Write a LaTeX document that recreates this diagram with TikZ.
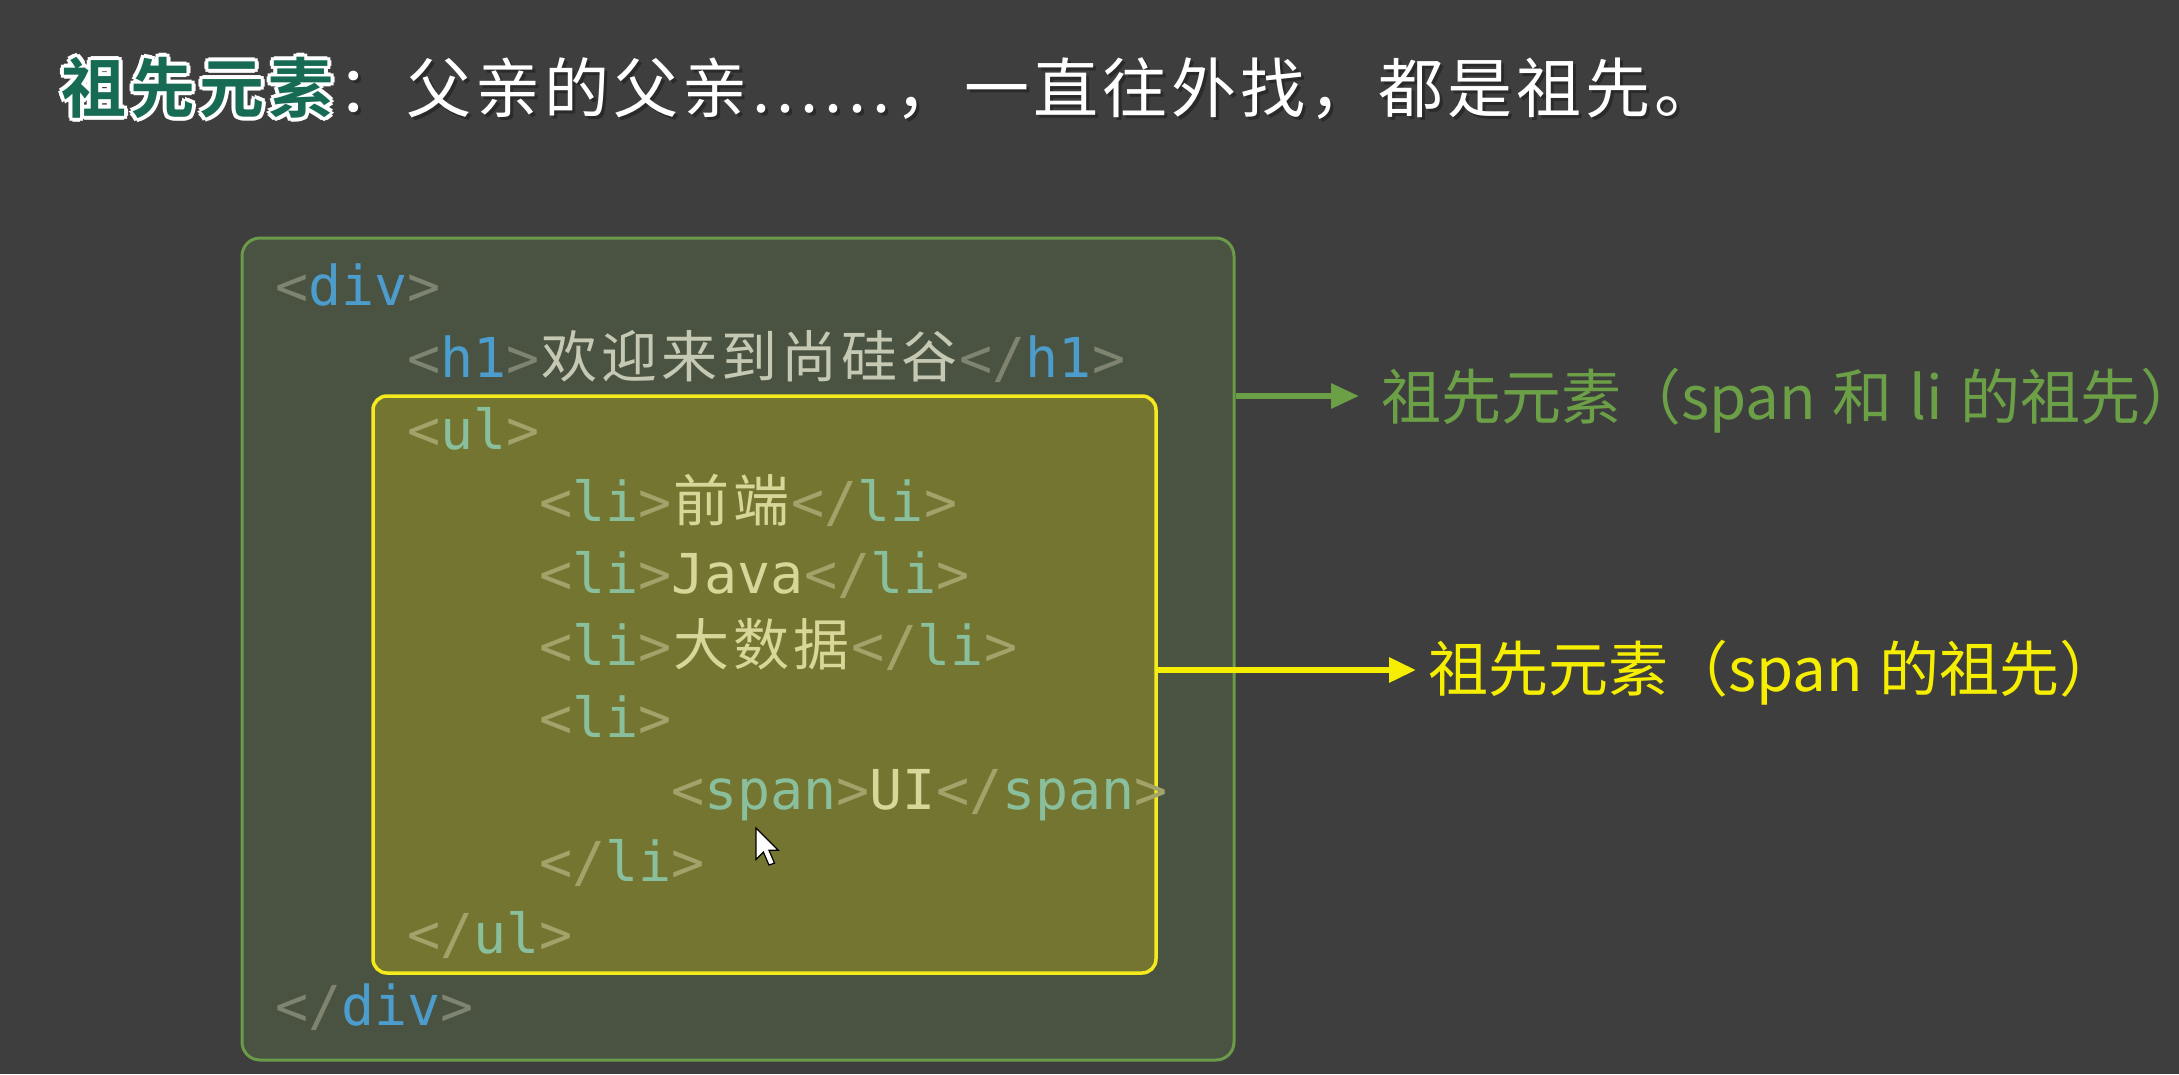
\documentclass[tikz,border=0pt]{standalone}
\usepackage{fontspec}
\usetikzlibrary{arrows.meta}
\newfontfamily\cjk{Noto Sans CJK SC}
\newfontfamily\cjkb{Noto Sans CJK SC Bold}
\newfontfamily\codef{DejaVu Sans Mono}
\definecolor{bg}{HTML}{3E3E3E}
\definecolor{outerfill}{HTML}{4A5241}
\definecolor{outerline}{HTML}{6B9A49}
\definecolor{innerfill}{HTML}{737530}
\definecolor{innerline}{HTML}{F5EA1D}
\definecolor{glab}{HTML}{6CA046}
\definecolor{ylab}{HTML}{F6EE00}
\definecolor{tgreen}{HTML}{176B54}
\definecolor{tshadow}{HTML}{2A2A2A}
\definecolor{obr}{HTML}{7F8471}
\definecolor{otag}{HTML}{4C9CCC}
\definecolor{otxt}{HTML}{C5C9B3}
\definecolor{ibr}{HTML}{A2A36A}
\definecolor{itag}{HTML}{8ABF9D}
\definecolor{itxt}{HTML}{D8D79A}
% code colour helpers
\newcommand\OB[1]{\textcolor{obr}{#1}}
\newcommand\OT[1]{\textcolor{otag}{#1}}
\newcommand\IB[1]{\textcolor{ibr}{#1}}
\newcommand\IT[1]{\textcolor{itag}{#1}}
\newcommand\IX[1]{\textcolor{itxt}{#1}}
\newcommand\CC[1]{\makebox[60pt][c]{{\cjk\fontsize{56}{56}\selectfont #1}}}
% spaced title characters
\makeatletter
\def\tsp#1{\tsp@i#1\@nil}
\def\tsp@i#1{\ifx#1\@nil\else\makebox[69pt][c]{#1}\expandafter\tsp@i\fi}
\makeatother
% title helpers
\newcommand\haloat[3]{\makebox[0pt][l]{\hspace{#1}\raisebox{#2}{#3}}}
\newcommand\halotext[1]{%
  \textcolor{white}{\haloat{4pt}{0pt}{#1}\haloat{-4pt}{0pt}{#1}\haloat{0pt}{4pt}{#1}\haloat{0pt}{-4pt}{#1}%
  \haloat{3pt}{3pt}{#1}\haloat{-3pt}{3pt}{#1}\haloat{3pt}{-3pt}{#1}\haloat{-3pt}{-3pt}{#1}%
  \haloat{2pt}{0pt}{#1}\haloat{-2pt}{0pt}{#1}\haloat{0pt}{2pt}{#1}\haloat{0pt}{-2pt}{#1}}%
  \textcolor{tgreen}{#1}}
\newcommand\shadowtext[1]{\haloat{3pt}{-3pt}{\textcolor{tshadow}{#1}}\textcolor{white}{#1}}
\newcommand\dotbox{\makebox[24pt][c]{.}}
\newcommand\lsp{\hspace{17pt}}
\tikzset{
  code/.style={anchor=base west, inner sep=0pt, font=\codef\fontsize{55}{55}\selectfont},
  outerbox/.style={draw=outerline, fill=outerfill, line width=3pt, rounded corners=18pt, inner sep=0pt},
  innerbox/.style={draw=innerline, fill=innerfill, line width=3.5pt, rounded corners=14pt, inner sep=0pt},
  lab/.style={anchor=base west, inner sep=0pt, font=\cjk\fontsize{60}{60}\selectfont},
  garrow/.style={draw=glab, line width=6pt, -{Triangle[length=28pt,width=24pt]}},
  yarrow/.style={draw=ylab, line width=6pt, -{Triangle[length=27pt,width=24pt]}},
}
\begin{document}
\begin{tikzpicture}[x=1pt,y=-1pt]
\useasboundingbox (0,0) rectangle (2179,1074);
\fill[bg] (0,0) rectangle (2179,1074);

% title
\node[anchor=base west, inner sep=0pt, font=\cjk\fontsize{65}{65}\selectfont] (title) at (59,112)
  {{\cjkb\halotext{\tsp{祖先元素}}}\shadowtext{\tsp{：父亲的父亲}\dotbox\dotbox\dotbox\dotbox\dotbox\dotbox\tsp{，一直往外找，都是祖先。}}};

% boxes
\node[outerbox, minimum width=992pt, minimum height=822pt] (outer) at (738,649) {};
\node[innerbox, minimum width=783pt, minimum height=577pt] (inner) at (764.5,684.5) {};

% code
\node[code] (c0) at (275,305) {\OB{<}\OT{div}\OB{>}};
\node[code] (c1) at (407,377) {\OB{<}\OT{h1}\OB{>}\textcolor{otxt}{\CC{欢}\CC{迎}\CC{来}\CC{到}\CC{尚}\CC{硅}\CC{谷}}\OB{</}\OT{h1}\OB{>}};
\node[code] (c2) at (407,449) {\IB{<}\IT{ul}\IB{>}};
\node[code] (c3) at (539,521) {\IB{<}\IT{li}\IB{>}\textcolor{itxt}{\CC{前}\CC{端}}\IB{</}\IT{li}\IB{>}};
\node[code] (c4) at (539,593) {\IB{<}\IT{li}\IB{>}\IX{Java}\IB{</}\IT{li}\IB{>}};
\node[code] (c5) at (539,665) {\IB{<}\IT{li}\IB{>}\textcolor{itxt}{\CC{大}\CC{数}\CC{据}}\IB{</}\IT{li}\IB{>}};
\node[code] (c6) at (539,737) {\IB{<}\IT{li}\IB{>}};
\node[code] (c7) at (671,809) {\IB{<}\IT{span}\IB{>}\IX{UI}\IB{</}\IT{span}\IB{>}};
\node[code] (c8) at (539,881) {\IB{</}\IT{li}\IB{>}};
\node[code] (c9) at (407,953) {\IB{</}\IT{ul}\IB{>}};
\node[code] (c10) at (275,1025) {\OB{</}\OT{div}\OB{>}};

% labels and arrows
\node[lab, text=glab] (glabel) at (1381,419) {祖先元素（span\lsp 和\lsp li\lsp 的祖先）};
\node[lab, text=ylab] (ylabel) at (1428,691) {祖先元素（span\lsp 的祖先）};
\coordinate (gtip) at (1359,396);
\coordinate (ytip) at (1416,670);
\draw[garrow] (outer.east |- gtip) -- (gtip);
\draw[yarrow] (inner.east |- ytip) -- (ytip);

% mouse pointer
\draw[shift={(756,828)}, scale=1.85, fill=white, draw=black, line width=1.2pt, line join=miter]
  (0,0) -- (0,17) -- (4,13) -- (7,20) -- (10,19) -- (7,12) -- (12,12) -- cycle;
\end{tikzpicture}
\end{document}
